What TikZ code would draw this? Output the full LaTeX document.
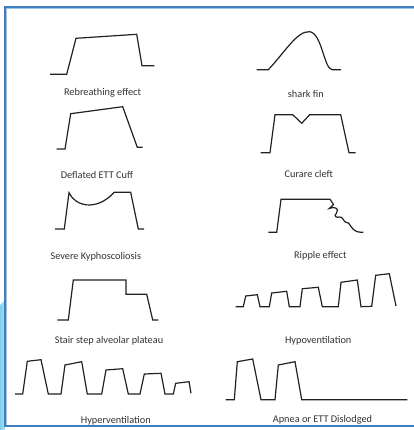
\documentclass[tikz,border=0pt]{standalone}
\usepackage{fontspec}
\setmainfont{Carlito}
\definecolor{framecol}{HTML}{3F7FC0}
\definecolor{framelight}{HTML}{9CC3E8}
\definecolor{wavecol}{HTML}{222222}
\definecolor{textcol}{HTML}{333333}
\definecolor{decocyan}{HTML}{7FD0EE}
\tikzset{
  wave/.style={draw=wavecol, line width=1.2pt, line join=miter},
  lab/.style={text=textcol, font=\fontsize{10.3}{12}\selectfont, inner sep=0pt, anchor=center}
}
\begin{document}
\begin{tikzpicture}[x=1pt,y=-1pt]
\useasboundingbox (0,0) rectangle (413,430);
\fill[white] (0,0) rectangle (413,430);
% decorative cyan wedge
\shade[left color=decocyan, right color=decocyan!60] (0,305) -- (5,300) -- (5,430) -- (0,430) -- cycle;
% frame
\draw[framelight, line width=1pt] (6,8.2) -- (416,8.2);
\draw[framelight, line width=1pt] (6.2,8) -- (6.2,425);
\draw[framecol, line width=1.2pt] (5,7) rectangle (416,426);

% Rebreathing effect
\draw[wave] (50,74.3) -- (66.7,74.3) -- (76,38.3) -- (136.7,34.3) -- (142,65.7) -- (154.3,65.7);
\node[lab] (l1) at (102.5,92.7) {Rebreathing effect};

% shark fin
\draw[wave] (256.7,69.7) -- (268.3,69.7) .. controls (285,52) and (297,31) .. (309.3,31.7) .. controls (322,32.5) and (324,69.7) .. (332.3,69.7) -- (341,69.7);
\node[lab] (l2) at (305.8,94) {shark fin};

% Deflated ETT Cuff
\draw[wave] (56.7,149) -- (65,149) -- (70.7,113.7) -- (122.7,106.7) -- (137.3,147.3) -- (142.7,147.3);
\node[lab] (l3) at (97,174.7) {Deflated ETT Cuff};

% Curare cleft
\draw[wave] (260.7,152.7) -- (270,152.7) -- (275,114.7) -- (292.7,114.7) -- (301.7,123.3) -- (309.7,114.7) -- (340.7,114.7) -- (349,152.7) -- (355.7,152.7);
\node[lab] (l4) at (308.8,174) {Curare cleft};

% Severe Kyphoscoliosis
\draw[wave] (55,229) -- (64.3,229) -- (69,192.7) .. controls (75,206) and (96,212) .. (114.3,192.3) -- (130.7,192.3) -- (138.3,229) -- (144,229);
\node[lab] (l5) at (95.8,256.3) {Severe Kyphoscoliosis};

% Ripple effect
\draw[wave] (268.3,232.3) -- (276.7,232.3) -- (281,199.3) -- (330,199.3) -- (333.5,204.5) -- (329.3,208.5)
  .. controls (334,206) and (340,208.5) .. (336.5,213)
  .. controls (333,216.5) and (337,218) .. (339.5,217)
  .. controls (343,216) and (344,223) .. (346.5,222.5)
  .. controls (349,222) and (350,226) .. (353,229)
  .. controls (356,232) and (359,232.3) .. (363.3,232.3);
\node[lab] (l6) at (320.3,256) {Ripple effect};

% Stair step alveolar plateau
\draw[wave] (57.3,320) -- (68.3,320) -- (73.3,280) -- (126,280) -- (126,294.3) -- (146.7,294.3) -- (152.7,320) -- (158.3,320);
\node[lab] (l7) at (109,340.3) {Stair step alveolar plateau};

% Hypoventilation
\draw[wave] (235.7,306.7) -- (243.3,306.7) -- (245.7,296) -- (257.3,294.7) -- (260,306.7) -- (269.3,306.7)
  -- (271.7,293) -- (286.7,291.3) -- (289.3,306.7) -- (300,306.7)
  -- (302.3,288.7) -- (318.3,287.3) -- (322.3,306.7) -- (338.3,306.7)
  -- (341,282.3) -- (357.3,280) -- (361,306.7) -- (371.7,306.3)
  -- (375.7,275.3) -- (389.3,273.7) -- (396,306);
\node[lab] (l8) at (318.2,340.3) {Hypoventilation};

% Hyperventilation
\draw[wave] (15,394) -- (22.7,394) -- (27.3,361.3) -- (41,359.7) -- (48.3,394) -- (61,394)
  -- (65,365) -- (81.7,361.7) -- (87.3,394) -- (101.7,394)
  -- (106,370) -- (122.7,368.7) -- (128.3,394) -- (140,394)
  -- (144.3,374) -- (161,373.3) -- (165,394) -- (173.3,394)
  -- (175.7,383.3) -- (189,381.7) -- (191,393.3);
\node[lab] (l9) at (115.8,420.3) {Hyperventilation};

% Apnea or ETT Dislodged
\draw[wave] (225.7,399.7) -- (234.3,399.7) -- (237.3,361.7) -- (252.7,359) -- (261,399.7) -- (275,399.7)
  -- (278.3,365) -- (295,361.7) -- (301.7,399.7) -- (407.3,399.7);
\node[lab] (l10) at (322.5,420.3) {Apnea or ETT Dislodged};
\end{tikzpicture}
\end{document}
